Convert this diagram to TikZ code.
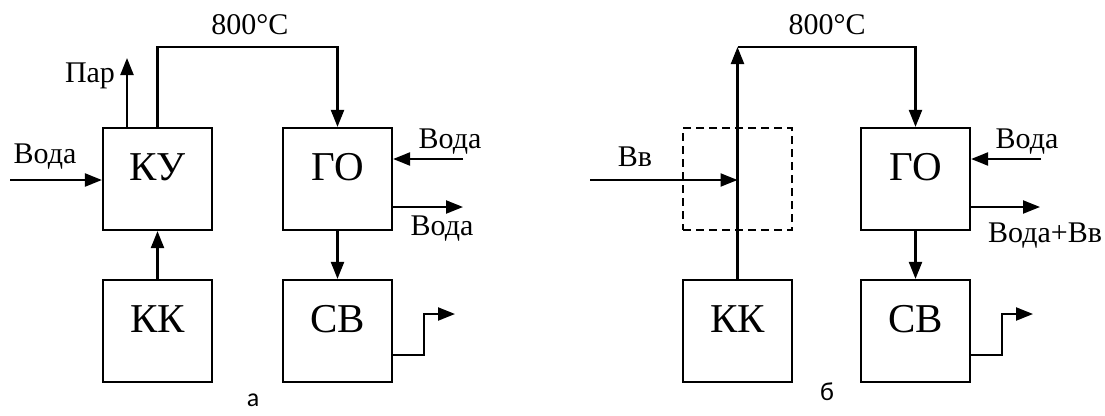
\documentclass[tikz,border=0pt]{standalone}
\usepackage{fontspec}
\setmainfont{Liberation Serif}
\newfontfamily\capfont{Carlito}
\usetikzlibrary{arrows.meta,calc}
\tikzset{
  unit/.style={draw=black, line width=2.2pt, minimum width=109pt, minimum height=102pt,
    inner sep=0pt, font=\fontsize{41}{41}\selectfont, text height=27pt, text depth=25pt},
  mixZone/.style={unit, dash pattern=on 8pt off 5pt},
  flow/.style={-{Triangle[length=17pt,width=13pt]}, line width=2.2pt, draw=black},
  tag/.style={font=\fontsize{30}{30}\selectfont, inner sep=0pt},
  panelTag/.style={font=\capfont\fontsize{26}{26}\selectfont, inner sep=0pt}
}
\begin{document}
\begin{tikzpicture}[x=1pt,y=-1pt]

% Frame
\useasboundingbox (0,0) rectangle (1105,415);

% Scheme a
\node[unit] (ku) at (157.5,179) {КУ};
\node[unit] (kk) at (157.5,331) {КК};
\node[unit] (go) at (337.5,179) {ГО};
\node[unit] (sv) at (337.5,331) {СВ};

\coordinate (parEnd) at (127,58);
\coordinate (hot) at (250,47);
\coordinate (vodaIn) at (10,180);
\coordinate (goIn) at (463,159);
\coordinate (goOut) at (463,207);
\coordinate (svOut) at (455,314);

\draw[flow] (parEnd |- ku.north) -- (parEnd);
\draw[flow] (ku.north) |- (hot) -| (go.north);
\draw[flow] (vodaIn) -- (vodaIn -| ku.west);
\draw[flow] (kk) -- (ku);
\draw[flow] (goIn) -- (goIn -| go.east);
\draw[flow] (goOut -| go.east) -- (goOut);
\draw[flow] (go) -- (sv);
\draw[flow] ([yshift=-24pt]sv.east) -| ([xshift=-31pt]svOut) -- (svOut);

\node[tag] (parLbl) at (90,76) {Пар};
\node[tag] (hotLbl) at (250,25) {800°C};
\node[tag] (vodaLbl) at (45,157) {Вода};
\node[tag] (goInLbl) at (450,142) {Вода};
\node[tag] (goOutLbl) at (442,229) {Вода};
\node[panelTag] (capA) at (253,400) {а};

% Scheme b
\node[mixZone] (mix) at (737.5,179) {};
\node[unit] (kk2) at (737.5,331) {КК};
\node[unit] (go2) at (915.5,179) {ГО};
\node[unit] (sv2) at (915.5,331) {СВ};

\coordinate (hot2) at (827,47);
\coordinate (vvIn) at (590,180);
\coordinate (go2In) at (1041,159);
\coordinate (go2Out) at (1040,207);
\coordinate (sv2Out) at (1033,314);

\draw[flow] (kk2.north) -- (kk2.north |- hot2);
\draw[flow] (kk2.north |- hot2) -| (go2.north);
\draw[flow] (vvIn) -- (vvIn -| kk2.north);
\draw[flow] (go2In) -- (go2In -| go2.east);
\draw[flow] (go2Out -| go2.east) -- (go2Out);
\draw[flow] (go2) -- (sv2);
\draw[flow] ([yshift=-24pt]sv2.east) -| ([xshift=-31pt]sv2Out) -- (sv2Out);

\node[tag] (hot2Lbl) at (827,25) {800°C};
\node[tag] (vvLbl) at (635,157) {Вв};
\node[tag] (go2InLbl) at (1027,142) {Вода};
\node[tag] (go2OutLbl) at (1045,236) {Вода+Вв};
\node[panelTag] (capB) at (827,392) {б};

\end{tikzpicture}
\end{document}
